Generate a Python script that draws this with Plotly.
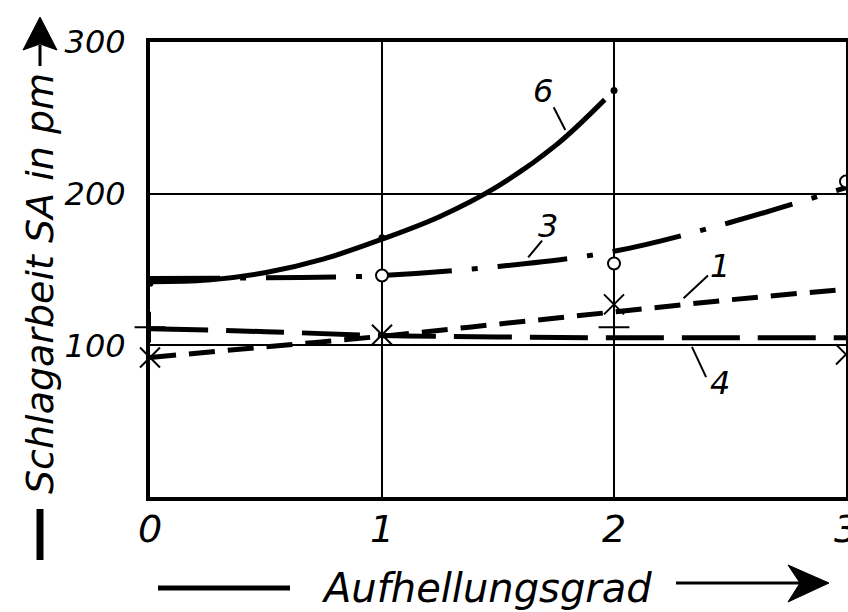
import plotly.graph_objects as go

# ---------------- data ----------------
x_ticks = [0, 1, 2, 3]
x_tick_labels = ["0", "1", "2", "3"]
y_ticks = [100, 200, 300]
y_tick_labels = ["100", "200", "300"]

# curve 6 (solid)
c6_x = [0, 0.25, 0.5, 0.75, 1.0, 1.25, 1.5, 1.75, 1.96]
c6_y = [142, 143, 148, 157, 170, 185, 205, 232, 262]
c6_pts_x = [0, 1, 2]
c6_pts_y = [141, 171, 268]

# curve 3 (dash-dot, open circles)
c3_x = [0, 0.5, 1.0, 1.5, 2.0, 2.5, 3.0]
c3_y = [144, 144.5, 146, 152, 162, 181, 204]
c3_pts_x = [1, 2, 3]
c3_pts_y = [146, 154, 208]

# curve 1 (short dashes, crosses)
c1_x = [0, 0.5, 1.0, 1.5, 2.0, 2.5, 3.0]
c1_y = [92, 99, 106, 114, 122, 130, 137]
c1_pts_x = [0, 1, 2, 3]
c1_pts_y = [92, 107, 127, 94]

# curve 4 (long dashes, plus marks)
c4_x = [0, 0.5, 1.0, 1.5, 2.0, 2.5, 3.0]
c4_y = [111, 109, 106.5, 105.5, 105, 105, 105]
c4_pts_x = [0, 2]
c4_pts_y = [112, 112]

# curve labels: text position and leader line (data units)
lab_text = ["6", "3", "1", "4"]
lab_x = [1.695, 1.716, 2.457, 2.457]
lab_y = [268, 179, 152, 75]
lead_x0 = [1.74, 1.69, 2.405, 2.336]
lead_y0 = [257, 169, 146, 99]
lead_x1 = [1.79, 1.63, 2.30, 2.397]
lead_y1 = [242, 158, 131, 79]

# ---------------- figure ----------------
W, H = 848, 612
ML, MR, MT, MB = 150, 2, 42, 115
FONT = "DejaVu Sans"


def px(xp):
    """page pixel x -> paper x"""
    return (xp - ML) / (W - ML - MR)


def py(yp):
    """page pixel y -> paper y"""
    return (H - MB - yp) / (H - MT - MB)


fig = go.Figure()
lw = 5
fig.add_trace(go.Scatter(x=c6_x, y=c6_y, mode="lines", line=dict(color="black", width=lw, shape="spline"),
                         cliponaxis=False))
fig.add_trace(go.Scatter(x=c3_x, y=c3_y, mode="lines",
                         line=dict(color="black", width=lw, shape="spline", dash="70px,20px,6px,20px"),
                         cliponaxis=False))
fig.add_trace(go.Scatter(x=c1_x, y=c1_y, mode="lines",
                         line=dict(color="black", width=lw, shape="spline", dash="26px,13px"),
                         cliponaxis=False))
fig.add_trace(go.Scatter(x=c4_x, y=c4_y, mode="lines",
                         line=dict(color="black", width=lw, shape="spline", dash="58px,18px"),
                         cliponaxis=False))

fig.add_trace(go.Scatter(x=c6_pts_x, y=c6_pts_y, mode="markers",
                         marker=dict(symbol="circle", size=7, color="black"), cliponaxis=False))
fig.add_trace(go.Scatter(x=c3_pts_x, y=c3_pts_y, mode="markers",
                         marker=dict(symbol="circle", size=12, color="white",
                                     line=dict(color="black", width=2)), cliponaxis=False))
fig.add_trace(go.Scatter(x=c1_pts_x, y=c1_pts_y, mode="markers",
                         marker=dict(symbol="x-thin", size=20, color="black",
                                     line=dict(color="black", width=2)), cliponaxis=False))
fig.add_trace(go.Scatter(x=c4_pts_x, y=c4_pts_y, mode="markers",
                         marker=dict(symbol="cross-thin", size=22, color="black",
                                     line=dict(color="black", width=2)), cliponaxis=False))

# curve labels and leader lines
for t, x, y, a0, b0, a1, b1 in zip(lab_text, lab_x, lab_y, lead_x0, lead_y0, lead_x1, lead_y1):
    fig.add_annotation(x=x, y=y, xref="x", yref="y", text=t, showarrow=False,
                       font=dict(family=FONT, size=32, color="black", style="italic"))
    fig.add_shape(type="line", xref="x", yref="y", x0=a0, y0=b0, x1=a1, y1=b1,
                  line=dict(color="black", width=2))

# y-axis title
fig.add_annotation(x=px(40), y=py(284), xref="paper", yref="paper", text="Schlagarbeit SA in pm",
                   textangle=-90, showarrow=False, xanchor="center", yanchor="middle",
                   font=dict(family=FONT, size=38, color="black", style="italic"))
# y arrow: stem + head
fig.add_shape(type="line", xref="paper", yref="paper", x0=px(40), y0=py(66), x1=px(40), y1=py(45),
              line=dict(color="black", width=3))
fig.add_shape(type="path", xref="paper", yref="paper",
              path=f"M {px(40)} {py(17)} L {px(57)} {py(50)} L {px(40)} {py(44)} L {px(23)} {py(50)} Z",
              fillcolor="black", line=dict(color="black", width=1))
# y bottom bar
fig.add_shape(type="line", xref="paper", yref="paper", x0=px(40), y0=py(509), x1=px(40), y1=py(560),
              line=dict(color="black", width=7))

# x-axis title
fig.add_annotation(x=px(486), y=py(588), xref="paper", yref="paper", text="Aufhellungsgrad",
                   showarrow=False, xanchor="center", yanchor="middle",
                   font=dict(family=FONT, size=40, color="black", style="italic"))
fig.add_shape(type="line", xref="paper", yref="paper", x0=px(158), y0=py(588), x1=px(290), y1=py(588),
              line=dict(color="black", width=5))
fig.add_shape(type="line", xref="paper", yref="paper", x0=px(676), y0=py(583), x1=px(800), y1=py(583),
              line=dict(color="black", width=3))
fig.add_shape(type="path", xref="paper", yref="paper",
              path=f"M {px(829)} {py(583)} L {px(788)} {py(565)} L {px(800)} {py(583)} L {px(788)} {py(602)} Z",
              fillcolor="black", line=dict(color="black", width=1))

axis_common = dict(showline=True, linecolor="black", linewidth=4, mirror=True,
                   showgrid=True, gridcolor="black", gridwidth=2, zeroline=False,
                   ticks="", automargin=False, ticklabeloverflow="allow")
fig.update_xaxes(range=[0, 3], tickvals=x_ticks, ticktext=x_tick_labels, ticklabelstandoff=-5,
                 tickfont=dict(family=FONT, size=38, color="black", style="italic"),
                 **axis_common)
fig.update_yaxes(range=[0, 300], tickvals=y_ticks, ticktext=y_tick_labels, ticklabelstandoff=14,
                 tickfont=dict(family=FONT, size=32, color="black", style="italic"),
                 **axis_common)

fig.update_layout(width=W, height=H, margin=dict(l=ML, r=MR, t=MT, b=MB, pad=0),
                  paper_bgcolor="white", plot_bgcolor="white", showlegend=False)

fig.write_html("out.html", config={"displayModeBar": False},
               post_script="document.body.style.margin='0';"
                           "document.documentElement.style.overflow='hidden';"
                           "document.body.style.overflow='hidden';")
